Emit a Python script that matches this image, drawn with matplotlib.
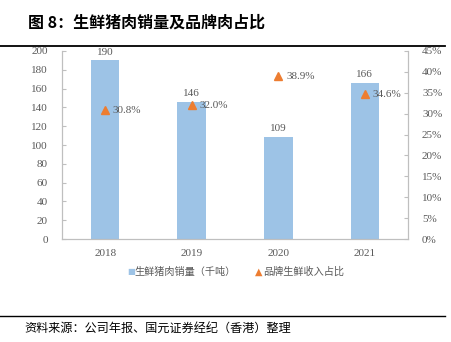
import matplotlib.pyplot as plt
import numpy as np

years = ["2018", "2019", "2020", "2021"]
volume = [190, 146, 109, 166]          # 千吨
share = [30.8, 32.0, 38.9, 34.6]       # %

cjk = ["Noto Sans CJK SC", "DejaVu Sans"]
num = ["Liberation Serif", "DejaVu Serif"]
gray = "#595959"

fig = plt.figure(figsize=(4.52, 3.42), dpi=100)
ax = fig.add_axes([0.137, 0.301, 0.766, 0.55])
ax2 = ax.twinx()

x = np.arange(len(years))
ax.bar(x, volume, width=0.33, color="#9DC3E6", zorder=2)
for xi, v in zip(x, volume):
    ax.text(xi, v + 4, str(v), ha="center", va="bottom", fontsize=8,
            family=num, color=gray)

ax2.plot(x, share, linestyle="none", marker="^", markersize=6,
         color="#ED7D31", zorder=3)
for xi, s in zip(x, share):
    ax2.text(xi + 0.09, s, f"{s:.1f}%", ha="left", va="center", fontsize=8,
             family=num, color=gray)

ax.set_xlim(-0.5, 3.5)
ax.set_ylim(0, 200)
ax.set_yticks(range(0, 201, 20))
ax2.set_ylim(0, 45)
ax2.set_yticks(range(0, 46, 5))
ax2.set_yticklabels([f"{v}%" for v in range(0, 46, 5)])
ax.set_xticks(x)
ax.set_xticklabels(years)

for a in (ax, ax2):
    a.spines["top"].set_visible(False)
    for s in ("left", "right", "bottom"):
        a.spines[s].set_color("#BFBFBF")
        a.spines[s].set_linewidth(0.8)
    a.tick_params(axis="y", direction="in", length=3, color="#BFBFBF",
                  labelsize=8, labelcolor=gray, pad=10)
    for lbl in a.get_yticklabels():
        lbl.set_family(num)
ax.tick_params(axis="x", length=0, labelsize=8, labelcolor=gray, pad=7)
for lbl in ax.get_xticklabels():
    lbl.set_family(num)

# legend
fig.text(0.281, 0.205, "■", color="#9DC3E6", fontsize=6, va="center",
         family=["DejaVu Sans"])
fig.text(0.297, 0.205, "生鲜猪肉销量（千吨）", color=gray, fontsize=7.3,
         va="center", family=cjk)
fig.text(0.564, 0.205, "▲", color="#ED7D31", fontsize=7, va="center",
         family=["DejaVu Sans"])
fig.text(0.583, 0.205, "品牌生鲜收入占比", color=gray, fontsize=7.3,
         va="center", family=cjk)

# title, rules, source
fig.text(0.062, 0.935, "图 8：生鲜猪肉销量及品牌肉占比", fontsize=11.5,
         fontweight="bold", va="center", family=cjk, color="black")
fig.add_artist(plt.Line2D([0.0, 0.985], [0.866, 0.866], color="black",
                          linewidth=1.3, transform=fig.transFigure))
fig.add_artist(plt.Line2D([0.0, 0.985], [0.076, 0.076], color="black",
                          linewidth=1.0, transform=fig.transFigure))
fig.text(0.055, 0.04, "资料来源：公司年报、国元证券经纪（香港）整理",
         fontsize=8.7, style="italic", va="center", family=cjk, color="black")

fig.savefig("out.png", dpi=100)
